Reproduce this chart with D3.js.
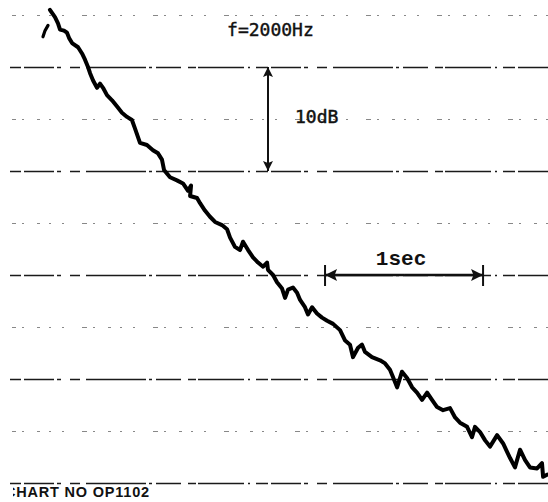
<!DOCTYPE html>
<html>
  <head>
    <title>Reverberation decay f=2000Hz</title>
    <script src="https://d3js.org/d3.v7.js"></script>
    <style>
      body { margin: 0; background: #fff; }
      svg { display: block; }
    </style>
  </head>
  <body>
    <svg width="548" height="502"></svg>

    <script>
      (function (d3) {
        'use strict';

        // recorder trace, time in seconds, level in dB (0 dB = top major line)
        const attackTime = [0.272, 0.285, 0.304];
        const attackLevel = [2.9, 3.5, 4.0];

        const decayTime = [
          0.316, 0.348, 0.367, 0.380, 0.405, 0.424, 0.437, 0.456, 0.494, 0.519,
          0.538, 0.557, 0.570, 0.589, 0.614, 0.633, 0.652, 0.677, 0.709, 0.741,
          0.772, 0.804, 0.835, 0.854, 0.886, 0.930, 0.968, 1.000, 1.025, 1.038,
          1.076, 1.120, 1.158, 1.190, 1.209, 1.203, 1.247, 1.266, 1.297, 1.329,
          1.361, 1.405, 1.437, 1.456, 1.487, 1.519, 1.538, 1.570, 1.601, 1.633,
          1.665, 1.690, 1.696, 1.728, 1.753, 1.785, 1.804, 1.823, 1.854, 1.880,
          1.899, 1.930, 1.949, 1.975, 2.006, 2.038, 2.070, 2.108, 2.152, 2.184,
          2.215, 2.234, 2.266, 2.291, 2.310, 2.354, 2.405, 2.437, 2.468, 2.487,
          2.513, 2.544, 2.576, 2.608, 2.639, 2.671, 2.703, 2.734, 2.766, 2.804,
          2.848, 2.880, 2.911, 2.956, 2.987, 3.006, 3.038, 3.070, 3.101, 3.146,
          3.184, 3.209, 3.228, 3.259, 3.291, 3.323, 3.354, 3.399, 3.430, 3.437,
          3.462,
        ];
        const decayLevel = [
          5.5, 4.8, 4.2, 3.6, 3.5, 3.3, 2.8, 2.3, 1.9, 1.3,
          0.7, 0.0, -0.6, -1.3, -2.0, -1.6, -2.0, -2.7, -3.2, -3.8,
          -4.4, -4.8, -5.1, -5.9, -7.3, -7.5, -8.0, -8.3, -8.9, -9.9,
          -10.6, -10.9, -11.2, -11.9, -11.4, -12.4, -12.6, -13.1, -13.8, -14.4,
          -14.9, -15.2, -15.6, -16.4, -17.3, -17.6, -16.8, -17.6, -18.3, -18.8,
          -19.2, -18.8, -19.5, -20.0, -20.7, -21.3, -22.2, -21.4, -21.2, -21.7,
          -22.4, -23.1, -23.8, -23.1, -23.7, -24.1, -24.4, -24.7, -25.3, -26.3,
          -26.7, -27.9, -27.0, -26.7, -27.4, -27.9, -28.2, -28.5, -29.1, -29.8,
          -30.8, -29.3, -29.9, -30.8, -31.3, -32.0, -31.3, -32.0, -32.7, -33.0,
          -32.8, -33.7, -34.2, -34.6, -35.6, -34.6, -35.1, -35.9, -36.5, -35.4,
          -36.2, -37.0, -37.6, -38.5, -36.8, -37.8, -38.5, -38.6, -38.1, -39.4,
          -39.2,
        ];

        const majorLevels = [0, -10, -20, -30, -40];
        const minorLevels = [5, -5, -15, -25, -35];

        const titleText = 'f=2000Hz';
        const dbLabel = '10dB';
        const secLabel = '1sec';
        const chartNo = 'CHART NO OP1102';

        const svg = d3.select('svg');
        const width = +svg.attr('width');
        const height = +svg.attr('height');

        const x = d3.scaleLinear().domain([0, 3.468]).range([0, width]);
        const y = d3.scaleLinear().domain([0, -40]).range([67, 483]);

        const defs = svg.append('defs');
        defs
          .append('marker')
          .attr('id', 'head')
          .attr('viewBox', '0 0 10 10')
          .attr('refX', 10)
          .attr('refY', 5)
          .attr('markerWidth', 6)
          .attr('markerHeight', 5)
          .attr('markerUnits', 'strokeWidth')
          .attr('orient', 'auto-start-reverse')
          .append('path')
          .attr('d', 'M0,0 L10,5 L0,10 L2,5 Z')
          .attr('fill', '#111');

        defs
          .append('clipPath')
          .attr('id', 'paper')
          .append('rect')
          .attr('x', 13)
          .attr('y', 0)
          .attr('width', width)
          .attr('height', height);

        // chart paper lines
        const minorG = svg
          .append('g')
          .attr('transform', `translate(${width},0)`)
          .call(
            d3
              .axisLeft(y)
              .tickValues(minorLevels)
              .tickSize(width - 12)
              .tickFormat(''),
          );
        minorG.select('.domain').remove();
        minorG
          .selectAll('.tick line')
          .attr('stroke', '#888')
          .attr('stroke-width', 1.1)
          .attr('stroke-dasharray', '2,9,3,13,2,6,5,18,2,11');

        const majorG = svg
          .append('g')
          .attr('transform', `translate(${width},0)`)
          .call(
            d3
              .axisLeft(y)
              .tickValues(majorLevels)
              .tickSize(width - 10)
              .tickFormat(''),
          );
        majorG.select('.domain').remove();
        majorG
          .selectAll('.tick line')
          .attr('stroke', '#1a1a1a')
          .attr('stroke-width', 1.4)
          .attr(
            'stroke-dasharray',
            '30,3,12,6,2,4,46,2,8,7,25,4,3,3,60,6,10,9,4,3',
          );

        // trace
        const line = d3
          .line()
          .x((d) => x(d[0]))
          .y((d) => y(d[1]))
          .curve(d3.curveLinear);

        const trace = svg.append('g').attr('fill', 'none').attr('stroke', '#000');

        trace
          .append('path')
          .attr('d', line(d3.zip(attackTime, attackLevel)))
          .attr('stroke-width', 3.2)
          .attr('stroke-linecap', 'round');

        trace
          .append('path')
          .attr('d', line(d3.zip(decayTime, decayLevel)))
          .attr('stroke-width', 4)
          .attr('stroke-linejoin', 'round')
          .attr('stroke-linecap', 'round');

        // 10 dB marker
        const arrowT = 1.696;
        [0, -10].forEach((lvl) => {
          svg
            .append('line')
            .attr('x1', x(arrowT))
            .attr('x2', x(arrowT))
            .attr('y1', y(-5))
            .attr('y2', y(lvl))
            .attr('stroke', '#111')
            .attr('stroke-width', 2)
            .attr('marker-end', 'url(#head)');
        });

        // 1 sec marker
        const secStart = 2.057;
        const secEnd = secStart + 1;
        const secMid = (secStart + secEnd) / 2;
        [secStart, secEnd].forEach((t) => {
          svg
            .append('line')
            .attr('x1', x(t))
            .attr('x2', x(t))
            .attr('y1', y(-20) - 10)
            .attr('y2', y(-20) + 11)
            .attr('stroke', '#111')
            .attr('stroke-width', 2);
          svg
            .append('line')
            .attr('x1', x(secMid))
            .attr('x2', x(t))
            .attr('y1', y(-20))
            .attr('y2', y(-20))
            .attr('stroke', '#111')
            .attr('stroke-width', 2.4)
            .attr('marker-end', 'url(#head)');
        });

        // labels
        const mono = '"DejaVu Sans Mono", "Liberation Mono", monospace';

        svg
          .append('text')
          .attr('x', x(1.437))
          .attr('y', 36)
          .attr('font-family', mono)
          .attr('font-size', 18)
          .attr('fill', '#111')
          .attr('stroke', '#111')
          .attr('stroke-width', 0.4)
          .text(titleText);

        svg
          .append('text')
          .attr('x', x(1.867))
          .attr('y', y(-5.4))
          .attr('font-family', mono)
          .attr('font-size', 18)
          .attr('fill', '#111')
          .attr('stroke', '#111')
          .attr('stroke-width', 0.5)
          .text(dbLabel);

        svg
          .append('text')
          .attr('x', x(secMid) - 3)
          .attr('y', y(-20) - 10)
          .attr('text-anchor', 'middle')
          .attr('font-family', '"Liberation Mono", "Courier New", monospace')
          .attr('font-weight', 'bold')
          .attr('font-size', 21)
          .attr('fill', '#111')
          .text(secLabel);

        svg
          .append('text')
          .attr('clip-path', 'url(#paper)')
          .attr('x', 5)
          .attr('y', 497)
          .attr('font-family', '"Liberation Sans", Arial, sans-serif')
          .attr('font-weight', 'bold')
          .attr('font-size', 14.5)
          .attr('letter-spacing', 0.8)
          .attr('fill', '#111')
          .text(chartNo);
      })(d3);
    </script>
  </body>
</html>
